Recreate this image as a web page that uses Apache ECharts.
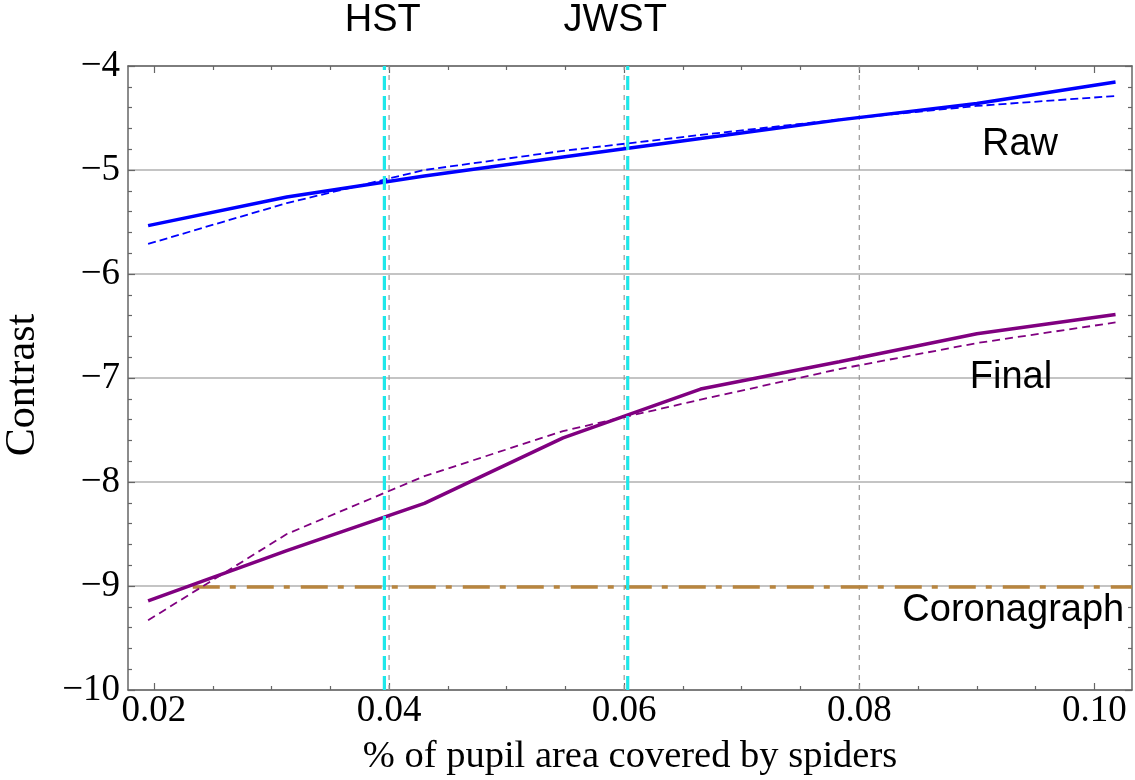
<!DOCTYPE html>
<html>
<head>
<meta charset="utf-8">
<script src="https://cdn.jsdelivr.net/npm/echarts@6/dist/echarts.min.js"></script>
<style>
html,body{margin:0;padding:0;background:#fff;}
#chart{width:1135px;height:780px;}
</style>
</head>
<body>
<div id="chart"></div>
<script>
// ---- data ----
const xs = [0.0195, 0.0313, 0.043, 0.0548, 0.0665, 0.0783, 0.090, 0.1018];
const rawSolid = [-5.535, -5.26, -5.057, -4.876, -4.698, -4.518, -4.361, -4.154];
const rawDashed = [-5.711, -5.318, -5.00, -4.816, -4.663, -4.515, -4.384, -4.288];
const finalSolid = [-9.144, -8.66, -8.206, -7.576, -7.106, -6.844, -6.575, -6.39];
const finalDashed = [-9.33, -8.50, -7.944, -7.51, -7.208, -6.914, -6.664, -6.466];
const coronaX = [0.0233, 0.1032];
const coronaY = [-9.01, -9.01];
const telescopeNames = ['HST', 'JWST'];
const telescopeX = [0.0396, 0.0603];
const gridXLines = [0.04, 0.06, 0.08];
const xMajorTicks = [0.02, 0.04, 0.06, 0.08, 0.10];
const xMinorTicks = [0.025, 0.03, 0.035, 0.045, 0.05, 0.055, 0.065, 0.07, 0.075, 0.085, 0.09, 0.095];
const xMin = 0.01779, xMax = 0.1032;
const yMin = -10, yMax = -4;
// text annotations: [x, y, text]
const textLabels = [
  [0.03946, -3.565, 'HST'],
  [0.05923, -3.565, 'JWST'],
  [0.09367, -4.757, 'Raw'],
  [0.0929, -6.996, 'Final'],
  [0.0931, -9.232, 'Coronagraph']
];

const zip = (a, b) => a.map((v, i) => [v, b[i]]);
const axisColor = '#666';
const serif = 'Liberation Serif';
const sans = 'Liberation Sans';

function xAxisBase(pos) {
  return {
    type: 'value', position: pos, min: xMin, max: xMax,
    axisLine: { show: true, onZero: false, lineStyle: { color: axisColor, width: 1.5 } },
    splitLine: { show: false },
    axisLabel: { show: false },
  };
}

const xAxes = [
  Object.assign(xAxisBase('bottom'), {
    axisTick: { show: true, inside: true, length: 7, customValues: xMajorTicks, lineStyle: { color: axisColor, width: 1.2 } },
    axisLabel: { show: true, customValues: xMajorTicks, formatter: v => v.toFixed(2), fontFamily: serif, fontSize: 37, color: '#000', margin: 3 },
    name: '% of pupil area covered by spiders', nameLocation: 'middle', nameGap: 47,
    nameTextStyle: { fontFamily: serif, fontSize: 38.5, color: '#000' }
  }),
  Object.assign(xAxisBase('bottom'), {
    axisLine: { show: false },
    axisTick: { show: true, inside: true, length: 4, customValues: xMinorTicks, lineStyle: { color: axisColor, width: 1.2 } }
  }),
  Object.assign(xAxisBase('top'), {
    axisTick: { show: true, inside: true, length: 7, customValues: xMajorTicks, lineStyle: { color: axisColor, width: 1.2 } }
  }),
  Object.assign(xAxisBase('top'), {
    axisLine: { show: false },
    axisTick: { show: true, inside: true, length: 4, customValues: xMinorTicks, lineStyle: { color: axisColor, width: 1.2 } }
  })
];

function yAxisBase(pos) {
  return {
    type: 'value', position: pos, min: yMin, max: yMax, interval: 1,
    axisLine: { show: true, onZero: false, lineStyle: { color: axisColor, width: 1.5 } },
    axisTick: { show: true, inside: true, length: 7, lineStyle: { color: axisColor, width: 1.2 } },
    minorTick: { show: true, splitNumber: 5, length: 4, lineStyle: { color: axisColor, width: 1.2 } },
    splitLine: { show: false },
    axisLabel: { show: false }
  };
}

const yAxes = [
  Object.assign(yAxisBase('left'), {
    axisLabel: { show: true, formatter: v => (v < 0 ? '\u2212' + Math.abs(v) : String(v)), fontFamily: serif, fontSize: 37, color: '#000', margin: 8 },
    splitLine: { show: true, lineStyle: { color: '#b0b0b0', width: 1.5 } },
    name: 'Contrast', nameLocation: 'middle', nameGap: 84,
    nameTextStyle: { fontFamily: serif, fontSize: 42, color: '#000', padding: [0, 14, 0, 0] }
  }),
  yAxisBase('right')
];

const series = [
  {
    type: 'line', name: 'Coronagraph', data: zip(coronaX, coronaY), symbol: 'none', z: 3,
    lineStyle: { color: '#b8853f', width: 3.5, type: [27, 10, 6, 11] }
  },
  {
    type: 'line', name: 'Raw dashed', data: zip(xs, rawDashed), symbol: 'none', z: 4,
    lineStyle: { color: '#0000ff', width: 1.8, type: [8, 4] }
  },
  {
    type: 'line', name: 'Raw', data: zip(xs, rawSolid), symbol: 'none', z: 4,
    lineStyle: { color: '#0000ff', width: 3.5 }
  },
  {
    type: 'line', name: 'Final dashed', data: zip(xs, finalDashed), symbol: 'none', z: 4,
    lineStyle: { color: '#800080', width: 1.8, type: [8, 5] }
  },
  {
    type: 'line', name: 'Final', data: zip(xs, finalSolid), symbol: 'none', z: 4,
    lineStyle: { color: '#800080', width: 3.5 }
  }
];

gridXLines.forEach(v => series.push({
  type: 'line', name: 'grid ' + v, data: [[v, yMin], [v, yMax]], symbol: 'none', z: 1, silent: true,
  lineStyle: { color: '#999', width: 1.2, type: [5, 5] }
}));

telescopeX.forEach((v, i) => series.push({
  type: 'line', name: telescopeNames[i], data: [[v, yMin], [v, yMax]], symbol: 'none', z: 10, silent: true,
  lineStyle: { color: '#1ee8ea', width: 3.2, type: [14, 6] }
}));

series.push({
  type: 'scatter', name: 'labels', symbolSize: 0, clip: false, z: 12, silent: true,
  itemStyle: { opacity: 1 },
  data: textLabels.map(d => ({ value: [d[0], d[1]], name: d[2] })),
  label: {
    show: true, position: [0, 0], align: 'center', verticalAlign: 'middle', formatter: p => p.name,
    fontFamily: sans, fontSize: 38, color: '#000', textBorderWidth: 0, opacity: 1
  }
});

const option = {
  animation: false,
  backgroundColor: '#fff',
  grid: { left: 128, right: 3, top: 66, bottom: 90, containLabel: false, outerBoundsMode: 'none' },
  xAxis: xAxes,
  yAxis: yAxes,
  series: series
};

const chart = echarts.init(document.getElementById('chart'), null, { renderer: 'canvas' });
chart.setOption(option);
</script>
</body>
</html>
